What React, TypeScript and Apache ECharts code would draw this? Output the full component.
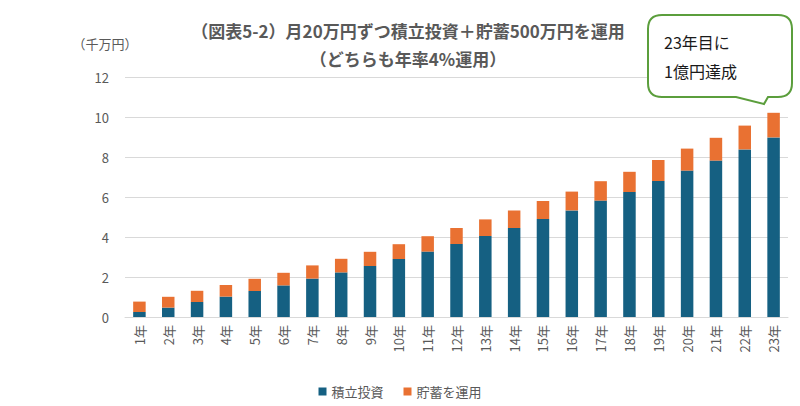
import React, { useEffect, useRef } from "react";
import * as echarts from "echarts";

const years: string[] = [
  "1年", "2年", "3年", "4年", "5年", "6年", "7年", "8年", "9年", "10年",
  "11年", "12年", "13年", "14年", "15年", "16年", "17年", "18年", "19年", "20年",
  "21年", "22年", "23年",
];
// 単位：千万円
const investment: number[] = [
  0.25, 0.47, 0.75, 1.02, 1.3, 1.58, 1.92, 2.23, 2.55, 2.9,
  3.27, 3.65, 4.05, 4.45, 4.9, 5.33, 5.82, 6.25, 6.8, 7.32,
  7.82, 8.38, 8.98,
];
const savings: number[] = [
  0.52, 0.54, 0.56, 0.58, 0.61, 0.63, 0.66, 0.68, 0.71, 0.74,
  0.77, 0.8, 0.83, 0.87, 0.9, 0.94, 0.97, 1.01, 1.05, 1.1,
  1.14, 1.19, 1.23,
];
const yTicks = { min: 0, max: 12, interval: 2 };
const seriesNames = ["積立投資", "貯蓄を運用"];
const titleLines = ["（図表5-2）月20万円ずつ積立投資＋貯蓄500万円を運用", "（どちらも年率4%運用）"];
const calloutLines = ["23年目に", "1億円達成"];
const unitLabel = "（千万円）";

const FONT = "'Noto Sans CJK JP', 'Noto Sans', sans-serif";
const GRAY = "#595959";

const calloutPath =
  "M 662 15 H 778 Q 792 15 792 29 V 83 Q 792 97 778 97 H 768 L 764 104 L 736 97 H 662 Q 648 97 648 83 V 29 Q 648 15 662 15 Z";

export default function App() {
  const ref = useRef<HTMLDivElement>(null);
  useEffect(() => {
    document.body.style.margin = "0";
    if (!ref.current) return;
    echarts.graphic.registerShape("callout", echarts.graphic.extendPath(calloutPath, {}) as any);
    const chart = echarts.init(ref.current, null, { renderer: "svg" });
    chart.setOption({
      animation: false,
      backgroundColor: "#ffffff",
      textStyle: { fontFamily: FONT },
      grid: { left: 125, right: 12, top: 77, bottom: 89 },
      legend: {
        bottom: 3,
        left: "center",
        icon: "rect",
        itemWidth: 8,
        itemHeight: 8,
        itemGap: 20,
        textStyle: { color: GRAY, fontSize: 13, fontFamily: FONT },
        data: seriesNames,
      },
      xAxis: {
        type: "category",
        data: years,
        axisTick: { show: false },
        axisLine: { lineStyle: { color: "#d9d9d9" } },
        axisLabel: { rotate: 90, color: GRAY, fontSize: 13, margin: 8, fontFamily: FONT },
      },
      yAxis: {
        type: "value",
        min: yTicks.min,
        max: yTicks.max,
        interval: yTicks.interval,
        axisLine: { show: false },
        axisTick: { show: false },
        splitLine: { lineStyle: { color: "#d9d9d9" } },
        axisLabel: { color: GRAY, fontSize: 13, margin: 16, fontFamily: FONT },
      },
      series: [
        {
          name: seriesNames[0],
          type: "bar",
          stack: "total",
          barWidth: 12.5,
          itemStyle: { color: "#156082" },
          data: investment,
        },
        {
          name: seriesNames[1],
          type: "bar",
          stack: "total",
          barWidth: 12.5,
          itemStyle: { color: "#E97132" },
          data: savings,
        },
      ],
      graphic: [
        {
          type: "text",
          x: 408,
          y: 30,
          style: {
            text: titleLines[0],
            align: "center",
            verticalAlign: "middle",
            fill: GRAY,
            font: `bold 17px ${FONT}`,
          },
        },
        {
          type: "text",
          x: 408,
          y: 58,
          style: {
            text: titleLines[1],
            align: "center",
            verticalAlign: "middle",
            fill: GRAY,
            font: `bold 17px ${FONT}`,
          },
        },
        {
          type: "text",
          x: 105,
          y: 43,
          style: {
            text: unitLabel,
            align: "center",
            verticalAlign: "middle",
            fill: GRAY,
            font: `13px ${FONT}`,
          },
        },
        {
          type: "callout",
          x: 0,
          y: 0,
          z: 100,
          style: { fill: "#ffffff", stroke: "#5B9E3C", lineWidth: 2 },
        },
        {
          type: "text",
          x: 664,
          y: 42,
          z: 101,
          style: {
            text: calloutLines[0],
            verticalAlign: "middle",
            fill: "#1a1a1a",
            font: `16px ${FONT}`,
          },
        },
        {
          type: "text",
          x: 664,
          y: 71,
          z: 101,
          style: {
            text: calloutLines[1],
            verticalAlign: "middle",
            fill: "#1a1a1a",
            font: `16px ${FONT}`,
          },
        },
      ],
    });
    return () => chart.dispose();
  }, []);
  return <div ref={ref} style={{ width: 800, height: 406 }} />;
}
